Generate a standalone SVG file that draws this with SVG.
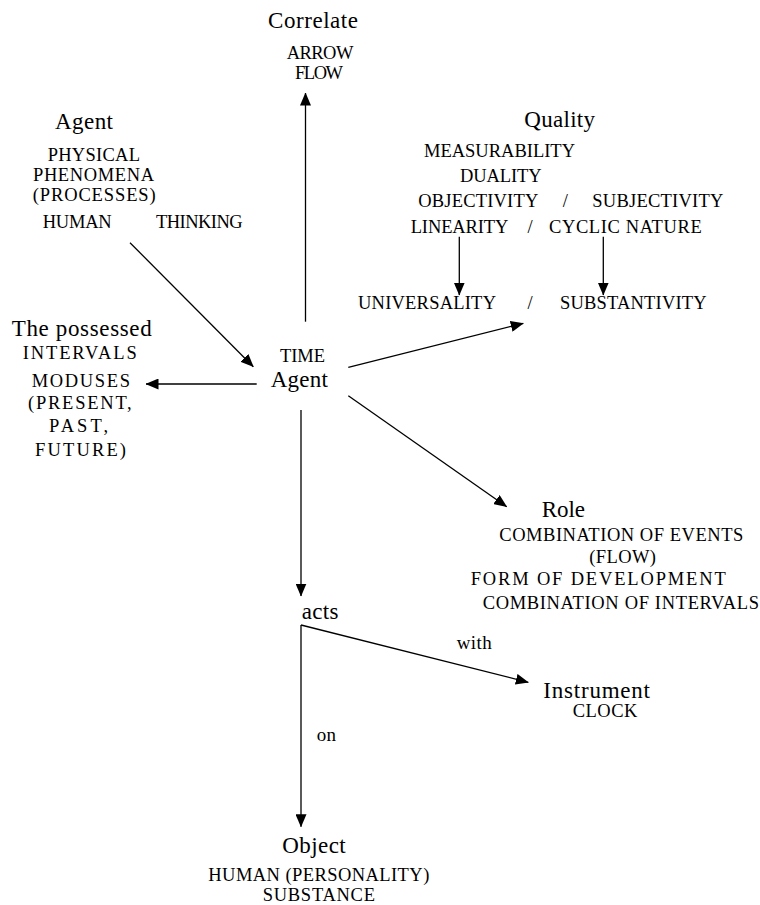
<svg xmlns="http://www.w3.org/2000/svg" width="760" height="905" viewBox="0 0 760 905">
<style>
text{font-family:"Liberation Serif","Times New Roman",serif;fill:#000}
.t{font-size:23px}
.c{font-size:18.5px}
.s{font-size:19px}
.ln{stroke:#000;stroke-width:1.3;fill:none;marker-end:url(#ah)}
</style>
<defs>
<marker id="ah" markerWidth="13" markerHeight="11" refX="12.5" refY="5.5" orient="auto" markerUnits="userSpaceOnUse">
<path d="M0,0 L13,5.5 L0,11 z" fill="#000"/>
</marker>
</defs>
<rect width="760" height="905" fill="#fff"/>
<g id="connectors">
<line class="ln" x1="305.5" y1="321.7" x2="305.5" y2="93"/>
<line class="ln" x1="130" y1="242.7" x2="253.3" y2="366.7"/>
<line class="ln" x1="256.7" y1="384" x2="146" y2="384"/>
<line class="ln" x1="348.3" y1="367.3" x2="523.3" y2="323.3"/>
<line class="ln" x1="348.3" y1="395.7" x2="506.7" y2="506.7"/>
<line class="ln" x1="301" y1="410" x2="301" y2="596"/>
<line class="ln" x1="459.3" y1="236.7" x2="459.3" y2="295"/>
<line class="ln" x1="603.3" y1="236.7" x2="603.3" y2="295"/>
<line class="ln" x1="301" y1="625" x2="528.3" y2="682.3"/>
<line class="ln" x1="301" y1="625" x2="301" y2="826.7"/>
<text class="s" x="456.7" y="649" textLength="35">with</text>
<text class="s" x="316.7" y="741" textLength="19.3">on</text>
</g>
<g id="correlate">
<text class="t" x="268" y="27.5" textLength="90">Correlate</text>
<text class="c" x="286.7" y="58.5" textLength="66.7">ARROW</text>
<text class="c" x="295" y="78.5" textLength="48">FLOW</text>
</g>
<g id="agent">
<text class="t" x="55" y="128.5" textLength="58">Agent</text>
<text class="c" x="47.7" y="160.5" textLength="92.3">PHYSICAL</text>
<text class="c" x="33" y="180.5" textLength="121">PHENOMENA</text>
<text class="c" x="32.7" y="200.5" textLength="123">(PROCESSES)</text>
<text class="c" x="42.7" y="227.5" textLength="69">HUMAN</text>
<text class="c" x="156" y="227.5" textLength="86.7">THINKING</text>
</g>
<g id="quality">
<text class="t" x="524.3" y="127" textLength="70.7">Quality</text>
<text class="c" x="424" y="156.5" textLength="151">MEASURABILITY</text>
<text class="c" x="460" y="181.5" textLength="81.7">DUALITY</text>
<text class="c" x="418.3" y="206.5" textLength="120">OBJECTIVITY</text>
<text class="c" x="565.3" y="206.5" text-anchor="middle">/</text>
<text class="c" x="592.3" y="206.5" textLength="131">SUBJECTIVITY</text>
<text class="c" x="410.7" y="233" textLength="97.6">LINEARITY</text>
<text class="c" x="530" y="233" text-anchor="middle">/</text>
<text class="c" x="549" y="233" textLength="152.7">CYCLIC NATURE</text>
<text class="c" x="358" y="309" textLength="138">UNIVERSALITY</text>
<text class="c" x="530" y="309" text-anchor="middle">/</text>
<text class="c" x="560" y="309" textLength="146.7">SUBSTANTIVITY</text>
</g>
<g id="time">
<text class="c" x="280" y="362" textLength="45">TIME</text>
<text class="t" x="270.7" y="387" textLength="57.3">Agent</text>
</g>
<g id="possessed">
<text class="t" x="11.7" y="335.5" textLength="140">The possessed</text>
<text class="c" x="22.7" y="359.3" textLength="114">INTERVALS</text>
<text class="c" x="31.7" y="386.5" textLength="98.3">MODUSES</text>
<text class="c" x="28" y="408.8" textLength="103.7">(PRESENT,</text>
<text class="c" x="49" y="432.2" textLength="59">PAST,</text>
<text class="c" x="35" y="455.5" textLength="91">FUTURE)</text>
</g>
<g id="role">
<text class="t" x="541.7" y="516.5" textLength="43.3">Role</text>
<text class="c" x="499.3" y="541.2" textLength="244">COMBINATION OF EVENTS</text>
<text class="c" x="589.3" y="563.2" textLength="66.7">(FLOW)</text>
<text class="c" x="470.7" y="584.8" textLength="255">FORM OF DEVELOPMENT</text>
<text class="c" x="482.7" y="608.8" textLength="276.3">COMBINATION OF INTERVALS</text>
</g>
<g id="acts">
<text class="t" x="301.7" y="618.8" textLength="36.7">acts</text>
</g>
<g id="instrument">
<text class="t" x="543.3" y="697.8" textLength="106.7">Instrument</text>
<text class="c" x="572.7" y="717.2" textLength="64.7">CLOCK</text>
</g>
<g id="object">
<text class="t" x="282.3" y="852.8" textLength="63.4">Object</text>
<text class="c" x="208.3" y="880.8" textLength="221">HUMAN (PERSONALITY)</text>
<text class="c" x="262.7" y="900.5" textLength="112.3">SUBSTANCE</text>
</g>
</svg>
